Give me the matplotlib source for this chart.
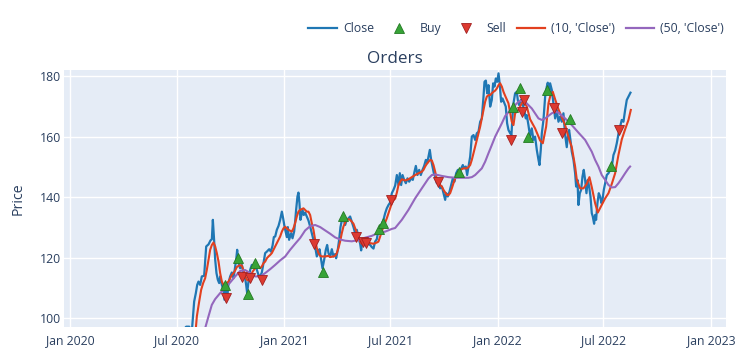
import numpy as np
import pandas as pd
import matplotlib
matplotlib.use('Agg')
import matplotlib.pyplot as plt
import matplotlib.dates as mdates
from matplotlib.lines import Line2D

# days counted from 2020-01-01
close_day = [185, 198.0, 203.2, 207.7, 211.7, 214.6, 216.9, 219.1, 222.0, 224.8, 228.8, 232.3, 236.3, 239.7,
             242.0, 243.7, 246.0, 247.7, 249.9, 252.2, 254.5, 256.2, 259.1, 261.9, 263.6, 265.9, 268.2, 270.5,
             273.3, 276.2, 279.0, 281.9, 283.6, 285.3, 287.6, 290.4, 293.3, 296.2, 299.0, 300.7, 302.4, 304.7,
             307.6, 310.4, 313.3, 316.1, 319.0, 321.8, 324.7, 327.5, 330.4, 333.2, 336.1, 340.1, 342.9, 345.8,
             348.1, 350.4, 353.2, 356.1, 358.9, 361.8, 364.0, 366.3, 370.3, 372.0, 374.2, 377.7, 380.0, 382.8,
             384.5, 386.2, 388.5, 390.2, 391.9, 393.6, 395.4, 397.1, 399.3, 401.6, 404.5, 407.3, 410.2, 413.0,
             415.9, 418.7, 421.6, 424.5, 426.2, 429.0, 431.3, 434.2, 437.0, 439.3, 441.6, 444.4, 447.3, 450.1,
             453.0, 454.7, 457.5, 459.8, 462.1, 464.4, 467.2, 470.1, 472.9, 475.8, 478.6, 481.5, 484.4, 487.2,
             490.1, 492.9, 495.8, 497.5, 499.8, 502.6, 505.5, 508.9, 512.9, 515.7, 518.6, 521.4, 524.3, 527.1,
             530.0, 532.8, 535.7, 538.6, 541.4, 544.3, 547.1, 550.0, 552.8, 555.7, 558.6, 561.4, 563.7, 566.0,
             568.3, 571.1, 574.0, 576.8, 579.7, 583.1, 585.9, 588.8, 591.1, 593.9, 596.8, 599.6, 602.5, 605.3,
             608.2, 610.5, 612.8, 615.0, 617.3, 619.6, 621.9, 624.2, 627.0, 629.9, 632.7, 635.6, 638.4, 641.3,
             643.0, 645.8, 648.7, 651.5, 654.4, 657.2, 660.1, 663.0, 665.8, 668.7, 671.5, 673.8, 676.6, 678.9,
             681.2, 684.1, 686.9, 689.8, 692.6, 695.5, 698.3, 701.2, 704.0, 706.9, 708.6, 710.9, 713.2, 715.4,
             718.3, 721.1, 723.4, 725.7, 728.0, 730.3, 732.6, 734.8, 737.1, 739.4, 742.8, 745.0, 747.3, 749.6,
             752.5, 754.7, 756.5, 758.2, 761.0, 763.9, 765.6, 767.9, 770.7, 773.6, 776.4, 779.3, 781.0, 783.8,
             786.7, 789.5, 792.4, 795.2, 798.1, 801.0, 802.7, 804.9, 806.7, 809.5, 812.4, 815.2, 816.9, 819.2,
             820.9, 823.8, 826.6, 829.5, 832.3, 835.2, 838.0, 840.9, 843.7, 846.6, 849.4, 851.2, 853.4, 855.7,
             858.0, 860.9, 863.7, 865.4, 867.7, 869.4, 871.7, 874.0, 876.3, 878.5, 880.8, 883.1, 885.4, 887.7,
             890.0, 892.2, 893.9, 896.2, 897.9, 899.6, 901.9, 904.2, 906.5, 908.8, 910.5, 912.8, 915.1, 917.9,
             920.8, 923.6, 926.5, 929.3, 932.2, 935.0, 937.9, 940.7, 943.5, 946.4, 949.3, 952.1, 955.0, 958.4]
close = [94.0, 97.2, 97.2, 95.6, 105.5, 108.3, 111.0, 112.1, 111.0, 113.8, 114.0, 123.7, 124.4, 125.7,
         126.1, 132.5, 125.3, 119.3, 114.9, 112.7, 111.6, 113.8, 111.0, 109.4, 106.1, 109.4, 106.3, 111.6,
         113.8, 115.1, 113.2, 117.1, 119.3, 122.6, 118.2, 116.5, 117.6, 114.9, 113.2, 111.0, 108.3, 112.1,
         116.0, 117.6, 116.9, 118.2, 116.0, 114.3, 113.8, 115.1, 118.2, 121.5, 122.0, 122.8, 122.0, 123.9,
         126.8, 127.0, 129.2, 130.5, 132.5, 135.2, 133.0, 130.3, 126.8, 130.1, 125.9, 128.1, 126.4, 128.6,
         131.9, 135.8, 140.2, 141.5, 138.0, 132.5, 134.1, 135.8, 134.1, 134.9, 133.6, 132.3, 130.3, 128.1,
         125.9, 123.7, 120.4, 121.7, 122.8, 119.3, 116.5, 119.3, 122.6, 124.2, 121.5, 120.2, 122.8, 120.4,
         121.2, 119.8, 122.6, 125.9, 130.1, 132.3, 133.0, 130.8, 132.5, 133.0, 133.6, 131.9, 130.1, 128.1,
         129.2, 126.8, 124.6, 122.4, 125.9, 124.6, 125.3, 124.6, 124.2, 123.5, 123.0, 125.3, 126.1, 129.2,
         129.7, 131.2, 132.5, 134.7, 136.3, 137.4, 138.2, 141.3, 142.4, 143.8, 147.3, 144.0, 147.9, 144.0,
         147.3, 145.7, 144.6, 146.2, 145.1, 146.2, 145.7, 148.4, 150.3, 147.3, 149.0, 147.3, 149.0, 150.3,
         152.3, 151.2, 153.4, 155.6, 152.3, 150.1, 147.9, 146.8, 144.6, 145.7, 142.9, 143.5, 141.3, 139.1,
         141.3, 140.2, 141.8, 144.0, 146.2, 145.1, 147.9, 149.0, 147.3, 149.5, 150.6, 149.5, 150.1, 147.3,
         150.1, 153.4, 160.0, 160.5, 158.9, 161.1, 161.6, 164.9, 166.0, 173.2, 178.1, 178.5, 174.3, 177.0,
         169.9, 172.1, 177.6, 176.5, 179.2, 178.1, 180.9, 177.0, 171.5, 172.6, 171.0, 169.9, 164.4, 162.2,
         161.1, 160.5, 166.6, 171.0, 174.3, 174.8, 172.1, 170.4, 172.1, 171.0, 168.8, 166.0, 167.1, 163.8,
         160.0, 162.7, 158.9, 160.0, 155.6, 152.3, 150.6, 155.6, 161.1, 165.5, 173.2, 176.5, 177.8, 174.3,
         177.6, 175.4, 171.0, 166.0, 168.8, 164.9, 166.6, 164.9, 167.7, 160.5, 156.5, 160.0, 162.2, 158.9,
         155.0, 152.3, 147.9, 143.5, 145.7, 137.4, 141.3, 142.4, 146.8, 149.0, 145.7, 141.3, 145.7, 143.5,
         140.2, 134.7, 133.6, 131.2, 134.1, 132.5, 138.0, 141.3, 140.2, 138.0, 139.1, 142.4, 144.6, 147.3,
         147.9, 149.0, 150.1, 153.9, 155.4, 157.8, 160.9, 163.3, 165.5, 164.9, 168.8, 172.1, 173.2, 174.5]

ma10_day = [214.6, 216.3, 220.3, 223.7, 227.1, 230.5, 233.4, 236.3, 239.1, 242.0, 244.8, 247.7, 250.5, 253.4,
            256.2, 259.1, 261.9, 264.8, 267.6, 270.5, 273.3, 276.2, 279.0, 281.9, 284.7, 287.6, 290.4, 293.3,
            296.2, 299.0, 301.9, 304.7, 307.6, 310.4, 313.3, 316.1, 319.0, 321.8, 324.7, 327.5, 330.4, 333.2,
            336.1, 338.9, 341.8, 344.6, 347.5, 350.4, 353.2, 356.1, 358.9, 361.8, 364.6, 367.5, 373.1, 378.8,
            381.7, 384.5, 387.4, 390.2, 393.1, 398.8, 404.5, 407.3, 410.2, 413.0, 415.9, 418.7, 421.6, 424.5,
            427.3, 430.2, 435.9, 441.6, 444.4, 450.1, 453.0, 455.8, 458.7, 461.5, 464.4, 467.2, 470.1, 472.9,
            475.8, 478.6, 481.5, 484.4, 487.2, 490.1, 492.9, 495.8, 498.6, 501.5, 507.2, 512.9, 518.6, 524.3,
            527.1, 530.0, 532.8, 535.7, 538.6, 541.4, 544.3, 547.1, 550.0, 552.8, 555.7, 558.6, 561.4, 564.3,
            567.1, 572.8, 578.5, 584.2, 589.9, 595.6, 601.3, 604.2, 607.0, 609.9, 612.8, 615.6, 618.5, 621.3,
            624.2, 627.0, 629.9, 632.7, 635.6, 638.4, 641.3, 644.1, 647.0, 649.8, 652.7, 655.5, 658.4, 661.2,
            664.1, 667.0, 672.7, 678.4, 681.2, 684.1, 686.9, 689.8, 692.6, 695.5, 698.3, 701.2, 704.0, 706.9,
            709.7, 712.6, 715.4, 718.3, 721.1, 724.0, 726.9, 729.7, 732.6, 735.4, 738.3, 741.1, 743.9, 749.6,
            755.3, 758.2, 761.0, 766.7, 772.4, 775.3, 781.0, 786.7, 795.2, 801.0, 803.8, 808.4, 814.1, 818.1,
            820.9, 825.5, 829.5, 835.2, 840.9, 846.6, 852.3, 858.0, 863.7, 866.6, 872.3, 878.0, 883.7, 888.2,
            892.2, 897.9, 902.5, 909.3, 915.1, 920.8, 926.5, 932.2, 937.9, 943.6, 949.3, 955.0, 959.0]
ma10 = [96.7, 100.6, 105.5, 109.4, 111.6, 113.2, 116.0, 119.3, 122.6, 124.2, 125.0, 123.7, 121.5, 118.7,
        114.9, 112.1, 111.0, 110.5, 111.6, 112.1, 113.2, 114.3, 114.9, 115.8, 116.9, 117.3, 117.5, 117.4,
        115.8, 114.0, 112.7, 112.5, 113.2, 114.9, 115.8, 116.5, 117.3, 117.1, 116.5, 117.1, 118.2, 118.7,
        119.8, 120.4, 120.9, 121.5, 122.6, 123.7, 124.8, 125.9, 127.0, 128.6, 129.7, 130.2, 129.2, 128.6,
        129.7, 131.4, 133.6, 135.2, 135.8, 136.3, 135.2, 135.2, 134.1, 131.4, 129.2, 125.9, 123.2, 121.5,
        120.6, 120.4, 120.4, 120.6, 120.2, 120.4, 120.6, 121.5, 123.2, 125.3, 128.1, 130.3, 131.6, 132.5,
        132.7, 132.5, 131.9, 131.2, 129.7, 128.3, 126.8, 125.3, 124.6, 124.2, 124.8, 124.8, 124.6, 125.0,
        125.3, 127.0, 128.6, 130.3, 131.6, 133.0, 134.7, 136.3, 138.0, 139.0, 139.5, 141.5, 144.0, 145.1,
        145.9, 145.5, 145.9, 146.6, 147.3, 147.9, 148.4, 149.0, 150.1, 151.0, 151.7, 152.3, 152.1, 150.6,
        148.4, 145.9, 144.8, 144.0, 143.5, 142.4, 141.5, 140.7, 140.7, 141.3, 142.9, 144.6, 146.2, 147.3,
        148.1, 149.0, 149.5, 149.5, 149.9, 150.6, 152.3, 154.5, 156.5, 158.9, 161.1, 163.3, 166.0, 168.8,
        171.5, 173.2, 173.7, 173.7, 174.3, 174.8, 175.2, 175.9, 177.0, 177.6, 176.5, 174.8, 173.5, 171.0,
        164.9, 163.8, 167.7, 168.8, 171.0, 171.9, 169.9, 165.7, 162.7, 160.0, 158.7, 157.8, 163.3, 171.0,
        173.2, 174.8, 172.3, 169.0, 166.4, 163.8, 159.8, 156.5, 150.1, 145.7, 142.9, 142.9, 144.4, 146.6,
        143.3, 138.0, 134.9, 137.4, 139.6, 141.3, 144.4, 147.9, 154.0, 159.1, 162.4, 165.5, 168.8]

ma50_day = [230.5, 236.2, 241.9, 247.6, 256.2, 264.8, 273.3, 281.9, 290.4, 299.0, 307.6, 316.1, 324.7, 333.2,
            341.8, 350.3, 358.9, 367.5, 376.0, 384.6, 393.1, 401.7, 410.2, 418.8, 427.4, 435.9, 444.5, 453.0,
            461.6, 470.1, 481.5, 492.9, 504.3, 515.7, 527.1, 538.6, 550.0, 555.7, 567.1, 578.5, 589.9, 601.3,
            612.8, 618.5, 624.2, 635.6, 647.0, 658.4, 669.8, 681.2, 686.9, 692.6, 698.3, 704.0, 709.7, 715.4,
            721.1, 726.9, 732.6, 738.3, 744.0, 755.3, 766.7, 772.4, 778.1, 789.5, 801.0, 806.7, 812.4, 823.8,
            829.5, 835.2, 846.6, 858.0, 869.4, 880.8, 892.2, 897.9, 903.6, 909.3, 915.1, 920.8, 926.5, 932.2,
            937.9, 943.6, 949.3, 955.0, 957.8]
ma50 = [96.7, 100.6, 104.4, 106.3, 108.3, 109.9, 111.8, 113.8, 115.6, 115.9, 114.9, 113.8, 113.8, 114.9,
        116.2, 117.6, 119.1, 120.4, 122.6, 124.6, 126.5, 129.0, 130.4, 130.8, 130.1, 129.0, 127.9, 126.7,
        126.0, 125.6, 125.4, 125.8, 126.6, 127.2, 128.2, 128.6, 129.5, 129.8, 132.5, 135.8, 139.6, 142.9,
        146.2, 147.3, 147.5, 147.0, 146.6, 146.4, 146.4, 146.4, 146.6, 147.3, 148.4, 149.5, 151.7, 154.5,
        157.2, 160.0, 162.2, 164.4, 166.8, 169.3, 171.5, 171.9, 171.5, 169.3, 166.0, 165.5, 166.0, 167.7,
        168.2, 167.9, 166.0, 163.8, 161.3, 158.9, 155.0, 152.3, 150.1, 147.3, 145.7, 144.0, 143.2, 143.3,
        144.6, 146.2, 147.9, 149.5, 150.1]

buy_day = [265.3, 286.1, 303.3, 316.1, 432.0, 467.2, 528.8, 535.7, 664.9, 758.2, 769.7, 783.8, 816.3, 855.2, 925.4]
buy_price = [111.0, 119.8, 108.1, 118.4, 115.4, 133.6, 129.6, 131.6, 148.2, 169.8, 175.9, 159.7, 175.3, 165.8, 150.3]

sell_day = [266.5, 293.3, 307.5, 327.2, 417.6, 488.1, 501.4, 506.1, 548.0, 629.8, 754.2, 772.5, 777.0, 828.2,
            841.0, 939.6]
sell_price = [106.7, 113.5, 113.2, 112.7, 124.6, 126.8, 125.3, 124.8, 138.9, 145.0, 159.0, 168.0, 172.1, 169.3,
              161.2, 162.2]

start = pd.Timestamp('2020-01-01')


def to_dates(days):
    return start + pd.to_timedelta(np.asarray(days, dtype=float), unit='D')


plt.rcParams['font.family'] = ['Open Sans', 'DejaVu Sans']
txt = '#2a3f5f'
c_close, c_ma10, c_ma50 = '#1f77b4', '#e2401f', '#9467bd'
buy_kw = dict(linestyle='none', marker='^', markersize=7, markerfacecolor='#37a337',
              markeredgecolor='#237a23', markeredgewidth=0.6)
sell_kw = dict(linestyle='none', marker='v', markersize=7, markerfacecolor='#dd3a30',
               markeredgecolor='#a32020', markeredgewidth=0.6)

fig = plt.figure(figsize=(7.42, 3.58), dpi=100)
ax = fig.add_axes([0.0863, 0.0858, 0.8922, 0.7187])
ax.set_facecolor('#E5ECF6')
for s in ax.spines.values():
    s.set_visible(False)
ax.grid(True, color='white', linewidth=1.0)
ax.set_axisbelow(True)

ax.plot(to_dates(close_day), close, color=c_close, linewidth=1.6, zorder=2)
ax.plot(to_dates(ma10_day), ma10, color=c_ma10, linewidth=1.5, zorder=3)
ax.plot(to_dates(ma50_day), ma50, color=c_ma50, linewidth=1.5, zorder=3)
ax.plot(to_dates(buy_day), buy_price, zorder=4, **buy_kw)
ax.plot(to_dates(sell_day), sell_price, zorder=4, **sell_kw)

ax.set_xlim(pd.Timestamp('2019-12-21'), pd.Timestamp('2023-01-27'))
ax.set_ylim(97.0, 182.0)
ax.set_yticks([100, 120, 140, 160, 180])
ax.set_xticks(pd.date_range('2020-01-01', '2023-01-01', freq='6MS'))
ax.xaxis.set_major_formatter(mdates.DateFormatter('%b %Y'))
ax.tick_params(length=0, labelsize=8.8, labelcolor=txt)
ax.tick_params(axis='x', pad=5)
ax.tick_params(axis='y', pad=2)
ax.set_ylabel('Price', fontsize=10.2, color=txt, labelpad=10)
ax.set_title('Orders', fontsize=12.3, color=txt, pad=5)

handles = [
    Line2D([], [], color=c_close, linewidth=1.6),
    Line2D([], [], **buy_kw),
    Line2D([], [], **sell_kw),
    Line2D([], [], color=c_ma10, linewidth=1.6),
    Line2D([], [], color=c_ma50, linewidth=1.6),
]
labels = ['Close', 'Buy', 'Sell', "(10, 'Close')", "(50, 'Close')"]
leg = fig.legend(handles, labels, loc='center right', bbox_to_anchor=(0.976, 0.919), ncol=5,
                 frameon=False, fontsize=8.8, handlelength=2.3, handletextpad=0.55, columnspacing=0.85,
                 borderpad=0, borderaxespad=0)
for t in leg.get_texts():
    t.set_color(txt)

fig.savefig('out.png', dpi=100)
